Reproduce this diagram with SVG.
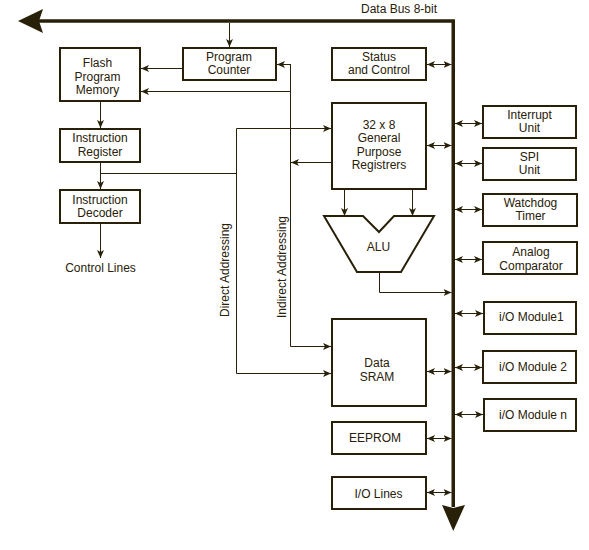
<svg xmlns="http://www.w3.org/2000/svg" width="589" height="550" viewBox="0 0 589 550">
<style>
.box{fill:#fff;stroke:#282008;stroke-width:2}
.ln{fill:none;stroke:#282008;stroke-width:1}
.ar{marker-end:url(#ah)}
.dbl{marker-start:url(#ah);marker-end:url(#ah)}
.bus{fill:none;stroke:#282008;stroke-width:3.5;stroke-linejoin:miter}
.hd{fill:#282008}
text{font-family:"Liberation Sans",Arial,sans-serif;font-size:12px;fill:#282008;text-anchor:middle}
.st{text-anchor:start}
</style>
<defs>
<marker id="ah" markerUnits="userSpaceOnUse" markerWidth="8" markerHeight="8" viewBox="0 0 8 8" refX="8" refY="4" orient="auto-start-reverse">
<path d="M0,0.5 L8,4 L0,7.5 L2,4 Z" fill="#282008"/>
</marker>
</defs>
<rect width="589" height="550" fill="#fff"/>

<g id="bus">
<path class="bus" d="M38,21 H453.25 V507"/>
<polygon class="hd" points="18,21 43,9 39,21 43,33"/>
<polygon class="hd" points="442,505 453.25,508 465,505 453.25,531"/>
<text x="399" y="13">Data Bus 8-bit</text>
</g>

<g id="connectors">
<path class="ln ar" d="M229.5,23 V47"/>
<path class="ln ar" d="M182,68.5 H141"/>
<path class="ln ar" d="M290.5,64.5 H277"/>
<path class="ln ar" d="M290.5,64 V346.5 H331"/>
<path class="ln ar" d="M290.5,91.5 H141"/>
<path class="ln ar" d="M100.5,102 V128"/>
<path class="ln ar" d="M100.5,163 V189"/>
<path class="ln" d="M100.5,173.5 H236.5"/>
<path class="ln ar" d="M236.5,173 V128.5 H331"/>
<path class="ln ar" d="M236.5,173 V373.5 H331"/>
<path class="ln ar" d="M331,162.5 H291"/>
<path class="ln ar" d="M100.5,224 V258"/>
<path class="ln ar" d="M344.5,190 V216"/>
<path class="ln ar" d="M412.5,190 V216"/>
<path class="ln ar" d="M379.5,272 V292.5 H451.5"/>
<path class="ln dbl" d="M427,64.5 H451.5"/>
<path class="ln dbl" d="M427,145.5 H451.5"/>
<path class="ln dbl" d="M427,371.5 H451.5"/>
<path class="ln dbl" d="M427,438.5 H451.5"/>
<path class="ln dbl" d="M427,492.5 H451.5"/>
<path class="ln dbl" d="M455,123.5 H482"/>
<path class="ln dbl" d="M455,163.5 H482"/>
<path class="ln dbl" d="M455,209.5 H482"/>
<path class="ln dbl" d="M455,259.5 H482"/>
<path class="ln dbl" d="M455,313.5 H483"/>
<path class="ln dbl" d="M455,367.5 H482"/>
<path class="ln dbl" d="M455,414.5 H483"/>
<text transform="translate(229,270) rotate(-90)">Direct Addressing</text>
<text transform="translate(286,267) rotate(-90)">Indirect Addressing</text>
</g>

<g id="flash">
<rect class="box" x="60" y="48" width="80" height="53"/>
<text x="97.5" y="67">Flash</text>
<text x="97.5" y="81">Program</text>
<text x="97.5" y="94">Memory</text>
</g>
<g id="pc">
<rect class="box" x="183" y="48" width="93" height="32"/>
<text x="229" y="61">Program</text>
<text x="229" y="74">Counter</text>
</g>
<g id="ir">
<rect class="box" x="60" y="129" width="80" height="33"/>
<text x="100" y="142">Instruction</text>
<text x="100" y="156">Register</text>
</g>
<g id="decoder">
<rect class="box" x="60" y="190" width="80" height="33"/>
<text x="100" y="204">Instruction</text>
<text x="100" y="217">Decoder</text>
</g>
<g id="control">
<text x="100.5" y="272">Control Lines</text>
</g>
<g id="status">
<rect class="box" x="332" y="48" width="94" height="32"/>
<text x="379" y="61">Status</text>
<text x="379" y="74">and Control</text>
</g>
<g id="registers">
<rect class="box" x="332" y="103" width="94" height="86"/>
<text x="379" y="129">32 x 8</text>
<text x="379" y="142">General</text>
<text x="379" y="155.5">Purpose</text>
<text x="379" y="169">Registrers</text>
</g>
<g id="alu">
<polygon class="box" points="324,216 363,216 379,232 394,216 434,216 401,272 357,272"/>
<text x="378.5" y="251">ALU</text>
</g>
<g id="sram">
<rect class="box" x="332" y="319" width="94" height="87"/>
<text x="377" y="367">Data</text>
<text x="377" y="381">SRAM</text>
</g>
<g id="eeprom">
<rect class="box" x="332" y="422" width="94" height="32"/>
<text x="375" y="442">EEPROM</text>
</g>
<g id="iolines">
<rect class="box" x="332" y="477" width="94" height="32"/>
<text x="378.5" y="497.5">I/O Lines</text>
</g>
<g id="interrupt">
<rect class="box" x="483" y="106" width="93" height="32"/>
<text x="529.5" y="119">Interrupt</text>
<text x="529.5" y="131.5">Unit</text>
</g>
<g id="spi">
<rect class="box" x="483" y="148" width="93" height="32"/>
<text x="529.5" y="160.5">SPI</text>
<text x="529.5" y="173.5">Unit</text>
</g>
<g id="watchdog">
<rect class="box" x="483" y="194" width="94" height="32"/>
<text x="530.5" y="207">Watchdog</text>
<text x="530.5" y="219.5">Timer</text>
</g>
<g id="analog">
<rect class="box" x="483" y="242" width="94" height="32"/>
<text x="531" y="256">Analog</text>
<text x="531" y="269.5">Comparator</text>
</g>
<g id="io1">
<rect class="box" x="484" y="302" width="92" height="32"/>
<text class="st" x="499" y="321">i/O Module1</text>
</g>
<g id="io2">
<rect class="box" x="483" y="351" width="93" height="32"/>
<text class="st" x="499" y="371">i/O Module 2</text>
</g>
<g id="ion">
<rect class="box" x="484" y="399" width="92" height="32"/>
<text class="st" x="499" y="418.5">i/O Module n</text>
</g>
</svg>
